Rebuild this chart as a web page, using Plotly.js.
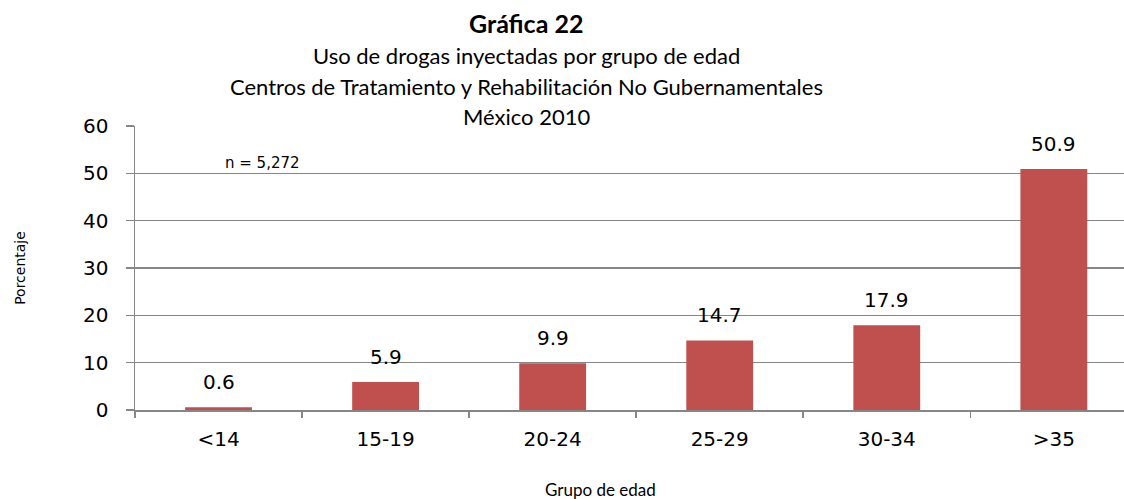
<!DOCTYPE html>
<html>
<head>
<meta charset="utf-8">
<script src="https://cdn.plot.ly/plotly-3.0.1.min.js"></script>
<style>html,body{margin:0;padding:0;background:#fff;}#chart{width:1124px;height:499px;}</style>
</head>
<body>
<div id="chart"></div>
<script>
const categories = ["<14", "15-19", "20-24", "25-29", "30-34", ">35"];
const values = [0.6, 5.9, 9.9, 14.7, 17.9, 50.9];
const valueLabels = ["0.6", "5.9", "9.9", "14.7", "17.9", "50.9"];
const yTicks = [0, 10, 20, 30, 40, 50, 60];
const titleLines = ["Gráfica 22", "Uso de drogas inyectadas por grupo de edad", "Centros de Tratamiento y Rehabilitación No Gubernamentales", "México 2010"];
const noteText = "n = 5,272";
const xTitle = "Grupo de edad";
const yTitle = "Porcentaje";

const titleFont = "Lato, 'Noto Sans', sans-serif";
const numFont = "'DejaVu Sans', sans-serif";

const plotLeft = 135, plotTop = 126, plotBottom = 410, plotRight = 1124;
function paperY(py) { return (plotBottom - py) / (plotBottom - plotTop); }
function paperX(px) { return (px - plotLeft) / (plotRight - plotLeft); }

const trace = {
  type: "bar",
  x: categories,
  y: values,
  marker: {color: "#C0504D"},
  hoverinfo: "skip"
};

const annotations = [];
values.forEach((v, i) => {
  annotations.push({
    x: categories[i], y: v, xref: "x", yref: "y",
    text: valueLabels[i], showarrow: false,
    yanchor: "bottom", yshift: 11,
    font: {family: numFont, size: 20, color: "#000"}
  });
});
const titleY = [23, 55, 86, 116];
titleLines.forEach((t, i) => {
  annotations.push({
    x: paperX(526), xref: "paper", xanchor: "center",
    y: paperY(titleY[i]), yref: "paper", yanchor: "middle",
    text: i === 0 ? "<b>" + t + "</b>" : t,
    showarrow: false,
    font: {family: titleFont, size: i === 0 ? 25 : 22, color: "#000"}
  });
});
annotations.push({
  x: paperX(262), xref: "paper", xanchor: "center",
  y: paperY(163), yref: "paper", yanchor: "middle",
  text: noteText, showarrow: false,
  font: {family: numFont, size: 15, color: "#000"}
});
annotations.push({
  x: paperX(600), xref: "paper", xanchor: "center",
  y: paperY(489), yref: "paper", yanchor: "middle",
  text: xTitle, showarrow: false,
  font: {family: titleFont, size: 17, color: "#000"}
});

const layout = {
  width: 1124, height: 499,
  margin: {l: plotLeft, r: 0, t: plotTop, b: 499 - plotBottom, pad: 0},
  paper_bgcolor: "#fff", plot_bgcolor: "#fff",
  showlegend: false,
  bargap: 0.6,
  xaxis: {
    type: "category",
    range: [-0.5, 5.42],
    showline: true, linecolor: "#868686", linewidth: 1.5,
    ticks: "outside", tickson: "boundaries", ticklen: 6, tickcolor: "#868686", tickwidth: 1.5,
    showgrid: false,
    tickfont: {family: numFont, size: 20, color: "#000"},
    ticklabelstandoff: 10,
    fixedrange: true
  },
  yaxis: {
    range: [0, 60],
    tickvals: yTicks,
    showline: true, linecolor: "#868686", linewidth: 1.5,
    ticks: "outside", ticklen: 8, tickcolor: "#868686", tickwidth: 1.5,
    showgrid: true, gridcolor: "#868686", gridwidth: 1.5,
    zeroline: false,
    tickfont: {family: numFont, size: 20, color: "#000"},
    ticklabelstandoff: 13,
    title: {text: yTitle, font: {family: numFont, size: 14, color: "#000"}, standoff: 54},
    fixedrange: true
  },
  annotations: annotations
};

Plotly.newPlot("chart", [trace], layout, {displayModeBar: false, staticPlot: true});
</script>
</body>
</html>
